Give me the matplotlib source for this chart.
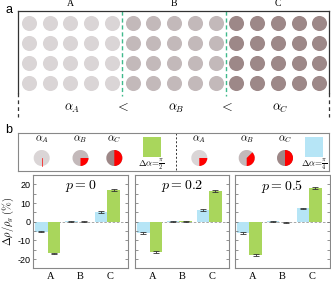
# Figura: a) mosaico de celdas A/B/C, b) cambio relativo de densidad por grupo
import numpy as np
import matplotlib
matplotlib.use('Agg')
import matplotlib.pyplot as plt
from matplotlib.patches import Wedge, Rectangle
from matplotlib.ticker import MultipleLocator

plt.rcParams['font.family'] = 'Liberation Sans'
plt.rcParams['mathtext.fontset'] = 'cm'
plt.rcParams['axes.unicode_minus'] = False

########################################################################################
# Datos
grupos = ['A', 'B', 'C']
n_col = 5          # columnas de celdas por grupo
n_fil = 4          # filas de celdas
color_grupo = ['#dad5d6', '#c3b9ba', '#9d8888']

# angulo alfa de cada grupo para cada delta alfa
alfa_pi2 = [0, np.pi / 2, np.pi]
alfa_pi4 = [np.pi / 2, 3 * np.pi / 4, np.pi]

p_vals = ['0', '0.2', '0.5']
# delta rho / rho (%) -- azul: dalfa = pi/4, verde: dalfa = pi/2
azul = [[-5.3, 0.3, 5.3], [-6.2, 0.3, 6.3], [-6.0, 0.3, 7.1]]
verde = [[-17.0, 0.1, 17.0], [-16.4, 0.2, 16.6], [-17.8, -0.3, 18.2]]
err_azul = [[0.4, 0.3, 0.5], [0.5, 0.3, 0.5], [0.5, 0.3, 0.4]]
err_verde = [[0.5, 0.3, 0.5], [0.6, 0.3, 0.5], [0.5, 0.3, 0.5]]
########################################################################################

AZUL = '#b6e5f6'
VERDE = '#a9d65c'
W, H = 331, 282


def rect(x0, y0, x1, y1):
    # posicion en pixeles -> fraccion de figura
    return [x0 / W, 1 - y1 / H, (x1 - x0) / W, (y1 - y0) / H]


fig = plt.figure(figsize=(W / 100, H / 100), dpi=100)

# ---------------- panel a ----------------
axa = fig.add_axes(rect(18.3, 11, 329.3, 117))
axa.set_xlim(-0.516, 14.48)
axa.set_ylim(4.7, -0.6)
axa.axis('off')
for g in range(len(grupos)):
    cols = g * n_col + np.arange(n_col)
    X, Y = np.meshgrid(cols, np.arange(n_fil))
    axa.scatter(X.ravel(), Y.ravel(), s=118, color=color_grupo[g], lw=0)
    axa.text(g * n_col + 2, -0.95, grupos[g], ha='center', va='center',
             fontsize=7, family='Liberation Serif')
    axa.text(g * n_col + 2.1, 4.25, r'$\alpha_%s$' % grupos[g], ha='center',
             va='center', fontsize=9)
    if g > 0:
        xb = g * n_col - 0.5
        axa.plot([xb, xb], [-0.6, 3.65], ls=(0, (3, 2)), color='#3fba8c', lw=1)
        axa.text(xb, 4.2, r'$<$', ha='center', va='center', fontsize=10)

x0, x1 = axa.get_xlim()
axa.plot([x0, x1], [-0.6, -0.6], color='#333333', lw=0.9, clip_on=False)
for xx in [x0, x1]:
    axa.plot([xx, xx], [-0.6, 3.5], color='#333333', lw=0.9, clip_on=False)
    axa.plot([xx, xx], [3.5, 4.7], color='#333333', lw=0.9, ls=(0, (3, 2.5)),
             clip_on=False)

fig.text(5 / W, 1 - 10 / H, 'a', fontsize=9, va='center')
fig.text(5 / W, 1 - 130 / H, 'b', fontsize=9, va='center')

# ---------------- leyenda panel b ----------------
axl = fig.add_axes(rect(18.3, 132.5, 329.3, 171))
axl.set_xlim(18.3, 329.3)
axl.set_ylim(171, 132.5)
axl.set_xticks([])
axl.set_yticks([])
for s in axl.spines.values():
    s.set_color('#888888')
    s.set_linewidth(0.8)

pie_x = [[41.7, 80.5, 114.3], [199.3, 246.7, 285.0]]
cuadro_x = [142.7, 305.0]
for k, (alfas, color_c, etiqueta) in enumerate(zip([alfa_pi2, alfa_pi4], [VERDE, AZUL],
                                                  [r'$\Delta\alpha\!=\!\frac{\pi}{2}$',
                                                   r'$\Delta\alpha\!=\!\frac{\pi}{4}$'])):
    for g, a in enumerate(alfas):
        cx, cy, r = pie_x[k][g], 158.0, 8.0
        axl.add_patch(Wedge((cx, cy), r, 0, 360, color=color_grupo[g], lw=0))
        ang = np.degrees(a)
        if ang > 0:
            axl.add_patch(Wedge((cx, cy), r, 90 - ang, 90, color='#ff0000', lw=0))
        else:
            axl.plot([cx, cx], [cy, cy + r], color='#ff0000', lw=0.5)
        axl.text(cx, 139.0, r'$\alpha_%s$' % grupos[g], ha='center', va='center',
                 fontsize=7.5)
    axl.add_patch(Rectangle((cuadro_x[k], 137.0), 18, 20, color=color_c, lw=0))
    axl.text(cuadro_x[k] + 9, 164.5, etiqueta, ha='center', va='center', fontsize=6.5)
axl.plot([176, 176], [132.5, 171], color='#333333', lw=0.7, ls=(0, (2, 2)))

# ---------------- barras ----------------
pos_ejes = [(33, 127.7), (135, 229.3), (234.7, 329.5)]
x = np.arange(len(grupos))
ancho = 0.42
for i in range(len(p_vals)):
    ax = fig.add_axes(rect(pos_ejes[i][0], 175, pos_ejes[i][1], 267.7))
    ax.axhline(0, color='#999999', lw=0.6, ls=(0, (3, 2)), zorder=0)
    ax.bar(x - ancho / 2, azul[i], ancho, color=AZUL, lw=0, zorder=1)
    ax.bar(x + ancho / 2, verde[i], ancho, color=VERDE, lw=0, zorder=1)
    ax.errorbar(x - ancho / 2, azul[i], yerr=err_azul[i], fmt='none', ecolor='#333333',
                elinewidth=0.6, capsize=2.2, capthick=0.6, zorder=2)
    ax.errorbar(x + ancho / 2, verde[i], yerr=err_verde[i], fmt='none', ecolor='#333333',
                elinewidth=0.6, capsize=2.2, capthick=0.6, zorder=2)
    ax.set_xlim(-0.49, 2.68)
    ax.set_ylim(-24.6, 25)
    ax.set_xticks(x + 0.1)
    ax.set_xticklabels(grupos, fontsize=7.5, family='Liberation Serif')
    ax.tick_params(axis='x', length=0, pad=3)
    ax.yaxis.set_major_locator(MultipleLocator(10))
    ax.yaxis.set_minor_locator(MultipleLocator(5))
    ax.tick_params(axis='y', which='both', direction='in', length=2.5, width=0.5,
                   left=True, right=True, color='#666666', labelsize=6.5, pad=2)
    for s in ax.spines.values():
        s.set_color('#888888')
        s.set_linewidth(0.8)
    if i > 0:
        ax.set_yticklabels([])
    else:
        ax.set_ylabel(r'$\Delta\rho/\rho_g\ (\%)$', fontsize=7.5)
        ax.yaxis.set_label_coords(-0.175, 0.5)
    ax.text(0.5, 0.88, r'$p=%s$' % p_vals[i], transform=ax.transAxes, ha='center',
            va='center', fontsize=10)

fig.savefig('out.png', dpi=100)
